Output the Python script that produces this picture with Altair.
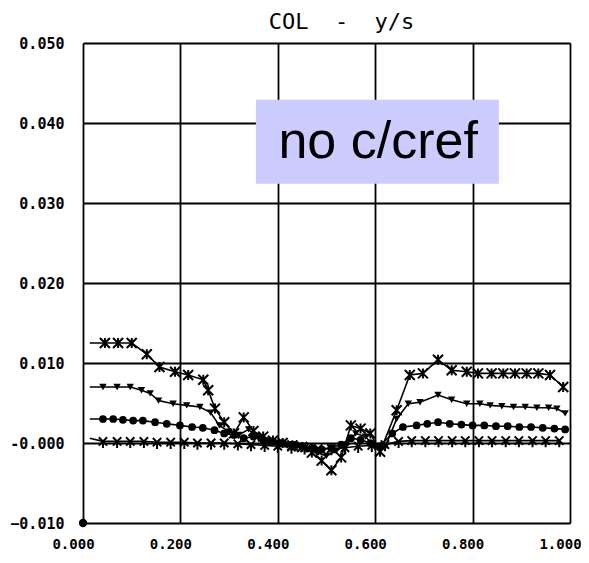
import altair as alt
import pandas as pd

# Series A (asterisk markers, top curve)
a_x = [0.014, 0.045, 0.072, 0.100, 0.131, 0.157, 0.189, 0.216, 0.247, 0.257, 0.271, 0.29, 0.31, 0.33,
       0.35, 0.37, 0.39, 0.41, 0.43, 0.45, 0.47, 0.49, 0.51, 0.53, 0.55, 0.57, 0.59, 0.61, 0.644, 0.671,
       0.698, 0.729, 0.757, 0.788, 0.811, 0.839, 0.863, 0.887, 0.911, 0.935, 0.959, 0.986]
a_y = [0.0125, 0.0125, 0.0125, 0.0125, 0.0111, 0.0095, 0.0089, 0.0085, 0.0079, 0.0066, 0.0043, 0.0026,
       0.0012, 0.0032, 0.0015, 0.0008, 0.0003, 0.0, -0.0003, -0.0005, -0.0012, -0.0022, -0.0034, -0.0018,
       0.0022, 0.0018, 0.0012, -0.0011, 0.0041, 0.0085, 0.0087, 0.0104, 0.0091, 0.0089, 0.0087, 0.0087,
       0.0087, 0.0087, 0.0087, 0.0087, 0.0085, 0.0070]

# Series B (triangle markers)
b_x = [0.014, 0.041, 0.07, 0.097, 0.12, 0.138, 0.155, 0.185, 0.213, 0.24, 0.262, 0.28, 0.30, 0.32, 0.34,
       0.36, 0.38, 0.40, 0.42, 0.44, 0.46, 0.48, 0.50, 0.52, 0.54, 0.56, 0.58, 0.60, 0.62, 0.644, 0.668,
       0.692, 0.729, 0.757, 0.788, 0.815, 0.836, 0.86, 0.884, 0.908, 0.932, 0.956, 0.973, 0.99]
b_y = [0.0070, 0.0070, 0.0070, 0.0070, 0.0066, 0.0062, 0.0053, 0.0049, 0.0047, 0.0045, 0.0038, 0.0022,
       0.0014, 0.0010, 0.0017, 0.0006, 0.0003, 0.0, -0.0002, -0.0004, -0.0008, -0.0012, -0.0016, -0.0010,
       -0.0002, 0.0012, 0.0008, -0.0006, -0.0006, 0.0030, 0.0049, 0.0051, 0.0060, 0.0054, 0.0049, 0.0049,
       0.0047, 0.0046, 0.0045, 0.0045, 0.0044, 0.0044, 0.0043, 0.0037]

# Series C (circle markers)
c_x = [0.014, 0.041, 0.062, 0.082, 0.103, 0.123, 0.148, 0.172, 0.199, 0.224, 0.246, 0.27, 0.29, 0.31,
       0.33, 0.35, 0.37, 0.39, 0.41, 0.43, 0.45, 0.47, 0.49, 0.51, 0.53, 0.55, 0.57, 0.59, 0.61, 0.635,
       0.657, 0.685, 0.707, 0.729, 0.753, 0.777, 0.80, 0.824, 0.848, 0.872, 0.896, 0.92, 0.944, 0.968, 0.99]
c_y = [0.0030, 0.0030, 0.0030, 0.0029, 0.0028, 0.0028, 0.0026, 0.0024, 0.0022, 0.0020, 0.0019, 0.0016,
       0.0012, 0.0010, 0.0006, 0.0008, 0.0004, 0.0002, 0.0, -0.0002, -0.0004, -0.0006, -0.0008, -0.0006,
       -0.0002, 0.0006, 0.0004, 0.0, -0.0004, 0.0012, 0.0020, 0.0022, 0.0024, 0.0026, 0.0024, 0.0023,
       0.0022, 0.0022, 0.0021, 0.0021, 0.0020, 0.0020, 0.0019, 0.0018, 0.0017]

# Series D (x markers, bottom curve)
d_x = [0.014, 0.041, 0.07, 0.097, 0.125, 0.152, 0.18, 0.208, 0.235, 0.263, 0.29, 0.318, 0.345, 0.373,
       0.40, 0.428, 0.455, 0.483, 0.51, 0.538, 0.565, 0.593, 0.62, 0.648, 0.675, 0.703, 0.73, 0.758,
       0.785, 0.813, 0.84, 0.868, 0.895, 0.923, 0.95, 0.978]
d_y = [0.0006, 0.0002, 0.0002, 0.0002, 0.0002, 0.0001, 0.0001, 0.0001, 0.0, 0.0, 0.0, -0.0001, -0.0002,
       -0.0003, -0.0004, -0.0005, -0.0006, -0.0007, -0.0007, -0.0006, -0.0004, -0.0003, -0.0002, 0.0002,
       0.0003, 0.0003, 0.0003, 0.0003, 0.0003, 0.0003, 0.0003, 0.0003, 0.0003, 0.0003, 0.0003, 0.0003]

corner_x = [0.0]
corner_y = [-0.010]

x_ticks = [0.0, 0.2, 0.4, 0.6, 0.8, 1.0]
y_ticks = [-0.010, 0.0, 0.010, 0.020, 0.030, 0.040, 0.050]

title_text = "COL\u00a0\u00a0-\u00a0\u00a0y/s"
note_text = "no c/cref"
note_box = {"x": [0.355], "x2": [0.854], "y": [0.0429], "y2": [0.0324]}
note_pos = {"x": [0.606], "y": [0.0376]}

xsc = alt.Scale(domain=[0, 1], nice=False, zero=False)
ysc = alt.Scale(domain=[-0.01, 0.05], nice=False, zero=False)

X = alt.X("x:Q", scale=xsc, axis=alt.Axis(
    values=x_ticks, format=".3f", title=None, domain=False, ticks=False,
    grid=True, gridColor="black", gridWidth=1.8, gridOpacity=1,
    labelFont="DejaVu Sans Mono", labelFontWeight="bold", labelFontSize=14,
    labelColor="black", labelPadding=14, labelFlush=False, labelOffset=-10))
Y = alt.Y("y:Q", scale=ysc, axis=alt.Axis(
    values=y_ticks, title=None, domain=False, ticks=False,
    labelExpr="datum.value == 0 ? '-0.000' : format(datum.value, '.3f')",
    grid=True, gridColor="black", gridWidth=1.8, gridOpacity=1,
    labelFont="DejaVu Sans Mono", labelFontWeight="bold", labelFontSize=15,
    labelColor="black", labelPadding=19, labelFlush=False))

star = "M-1,-1L1,1M-1,1L1,-1M0,-1L0,1"
xtick = "M-1,-1L1,1M-1,1L1,-1M0,0L0,1.6"

series = [
    (a_x, a_y, star, False, 100),
    (b_x, b_y, "triangle-down", True, 55),
    (c_x, c_y, "circle", True, 60),
    (d_x, d_y, xtick, False, 70),
]

layers = []
for i, (xs, ys, shape, filled, size) in enumerate(series):
    df = pd.DataFrame({"x": xs, "y": ys})
    line = alt.Chart(df).mark_line(color="black", strokeWidth=1.6).encode(x=X, y=Y)
    pts = alt.Chart(df).transform_filter("datum.x > 0.02").mark_point(
        shape=shape, filled=filled, color="black", size=size, strokeWidth=2, opacity=1
    ).encode(x=X, y=Y)
    layers += [line, pts]

# small marker at bottom-left corner
corner = alt.Chart(pd.DataFrame({"x": corner_x, "y": corner_y})).mark_point(
    shape="circle", filled=True, color="black", size=70, opacity=1).encode(x=X, y=Y)
layers.append(corner)

box = alt.Chart(pd.DataFrame(note_box)).mark_rect(color="#CCCCFF").encode(
    x=alt.X("x:Q", scale=xsc), x2="x2:Q", y=alt.Y("y:Q", scale=ysc), y2="y2:Q")
note = alt.Chart(pd.DataFrame(note_pos)).mark_text(
    text=note_text, font="Liberation Sans", fontSize=52, color="black",
    align="center", baseline="middle").encode(
    x=alt.X("x:Q", scale=xsc), y=alt.Y("y:Q", scale=ysc))
layers += [box, note]

chart = alt.layer(*layers).properties(
    width=487, height=480,
    title=alt.TitleParams(title_text, font="DejaVu Sans Mono", fontSize=22, fontWeight="normal",
                          color="black", anchor="middle", dx=15, offset=2),
    autosize=alt.AutoSizeParams(type="none"),
    padding={"left": 75, "top": 35, "right": 11, "bottom": 32},
).configure_view(stroke="black", strokeWidth=2.5).configure(background="white")

chart.save("out.html", embed_options={"renderer": "svg", "actions": False})
